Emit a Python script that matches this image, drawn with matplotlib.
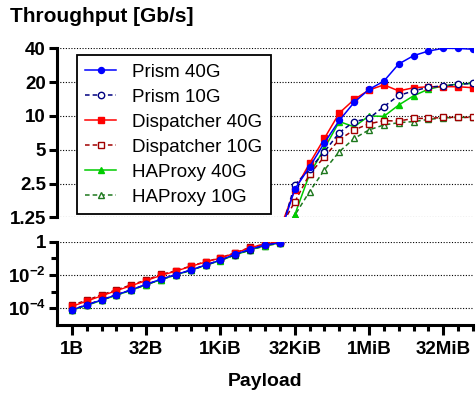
import matplotlib
matplotlib.use("Agg")
import matplotlib.pyplot as plt
from matplotlib.ticker import FixedLocator, NullLocator, NullFormatter

plt.rcParams['font.family'] = ['Liberation Sans', 'DejaVu Sans']
plt.rcParams['mathtext.fontset'] = 'custom'
plt.rcParams['mathtext.rm'] = 'Liberation Sans'
plt.rcParams['mathtext.bf'] = 'Liberation Sans:bold'

# payload exponents (2^k bytes)
low_k = list(range(0, 15))      # 1B .. 16KiB (lower panel)
high_k = list(range(14, 28))    # 16KiB .. 128MiB (upper panel, first point is clipped)

# lower panel throughput [Gb/s]
prism40_low = [8.1e-5, 1.6e-4, 3.2e-4, 6.5e-4, 1.3e-3, 2.8e-3, 5.6e-3, 1.07e-2,
               2.0e-2, 4.0e-2, 7.9e-2, 0.18, 0.35, 0.63, 0.87]
prism10_low = [8.3e-5, 1.65e-4, 3.3e-4, 6.6e-4, 1.3e-3, 2.7e-3, 5.5e-3, 1.05e-2,
               2.0e-2, 4.0e-2, 8.0e-2, 0.17, 0.34, 0.62, 0.85]
disp40_low = [1.3e-4, 2.7e-4, 5.6e-4, 1.15e-3, 2.3e-3, 4.6e-3, 9.5e-3, 1.7e-2,
              3.3e-2, 6.0e-2, 0.105, 0.21, 0.44, 0.72, 0.98]
disp10_low = [1.55e-4, 3.1e-4, 6.5e-4, 1.3e-3, 2.6e-3, 5.1e-3, 1.1e-2, 1.8e-2,
              3.5e-2, 6.3e-2, 0.11, 0.22, 0.46, 0.73, 1.0]
hap40_low = [7.6e-5, 1.5e-4, 3.0e-4, 6.1e-4, 1.2e-3, 2.6e-3, 5.2e-3, 1.0e-2,
             1.9e-2, 3.8e-2, 7.4e-2, 0.16, 0.32, 0.58, 0.83]
hap10_low = [7.8e-5, 1.55e-4, 3.1e-4, 6.2e-4, 1.25e-3, 2.6e-3, 5.3e-3, 1.0e-2,
             1.9e-2, 3.8e-2, 7.5e-2, 0.16, 0.31, 0.55, 0.80]

# upper panel throughput [Gb/s]
prism40_high = [0.87, 2.22, 3.51, 5.77, 9.1, 13.2, 17.2, 20.4, 29.0, 34.4, 37.8, 40.0, 39.9, 39.2]
prism10_high = [0.85, 2.43, 3.35, 4.8, 7.1, 8.9, 9.5, 12.1, 15.2, 16.7, 18.0, 18.5, 19.1, 19.5]
disp40_high = [0.98, 2.18, 3.78, 6.32, 10.6, 14.0, 17.0, 18.9, 16.7, 17.8, 18.2, 18.2, 18.2, 17.8]
disp10_high = [1.0, 1.71, 3.03, 4.32, 6.15, 7.5, 8.5, 9.07, 9.0, 9.5, 9.5, 9.7, 9.7, 9.7]
hap40_high = [0.83, 1.31, 3.03, 5.14, 8.9, 8.0, 10.0, 9.9, 12.5, 15.1, 17.3, 18.5, 19.2, 19.5]
hap10_high = [0.80, 1.30, 2.12, 3.3, 4.8, 6.3, 7.5, 8.3, 8.7, 8.9, 9.3, 9.6, 9.7, 9.7]

labels = ["Prism 40G", "Prism 10G", "Dispatcher 40G", "Dispatcher 10G", "HAProxy 40G", "HAProxy 10G"]
low_vals = [prism40_low, prism10_low, disp40_low, disp10_low, hap40_low, hap10_low]
high_vals = [prism40_high, prism10_high, disp40_high, disp10_high, hap40_high, hap10_high]

styles = [
    dict(color="#0000ff", ls="-", marker="o", ms=4.3, mfc="#0000ff", mec="#0000ff"),
    dict(color="#000080", ls=(0, (3, 2)), marker="o", ms=4.6, mfc="white", mec="#000080"),
    dict(color="#ff0000", ls="-", marker="s", ms=4.6, mfc="#ff0000", mec="#ff0000"),
    dict(color="#a00000", ls=(0, (3, 2)), marker="s", ms=4.6, mfc="white", mec="#a00000"),
    dict(color="#00cc00", ls="-", marker="^", ms=4, mfc="#00cc00", mec="#00cc00"),
    dict(color="#1e781e", ls=(0, (3, 2)), marker="^", ms=4.3, mfc="white", mec="#1e781e"),
]

fig = plt.figure(figsize=(4.77, 3.96), dpi=100)
left, right = 57 / 477, 473 / 477
ax_top = fig.add_axes([left, 1 - 217.3 / 396, right - left, (217.3 - 48.3) / 396])
ax_bot = fig.add_axes([left, 1 - 325 / 396, right - left, (325 - 241.7) / 396])

handles = [None] * 6
for i in reversed(range(6)):
    st = styles[i]
    xs_low = [2.0 ** k for k in low_k]
    xs_high = [2.0 ** k for k in high_k]
    ax_bot.plot(xs_low, low_vals[i], lw=1.0, mew=1.0, **st)
    h, = ax_top.plot(xs_high, high_vals[i], lw=1.1, mew=1.0, label=labels[i], **st)
    handles[i] = h

for ax in (ax_top, ax_bot):
    ax.set_xscale("log", base=2)
    ax.set_yscale("log")
    ax.set_xlim(0.5, 2.0 ** 27)
    ax.spines["right"].set_visible(False)
    ax.spines["top"].set_visible(False)
    ax.spines["left"].set_linewidth(2.2)
    ax.spines["bottom"].set_linewidth(2.2)
    ax.tick_params(axis="both", which="major", width=2.2, length=6, labelsize=13.5, pad=2)
    ax.tick_params(axis="both", which="minor", width=2.2, length=4)
    ax.grid(True, axis="y", which="major", ls=(0, (1, 1.5)), color="black", lw=0.8)
    ax.set_axisbelow(True)

# upper panel
ax_top.set_ylim(1.25, 40)
ax_top.spines["bottom"].set_visible(False)
top_ticks = [1.25, 2.5, 5, 10, 20, 40]
ax_top.yaxis.set_major_locator(FixedLocator(top_ticks))
ax_top.set_yticklabels(["1.25", "2.5", "5", "10", "20", "40"], fontweight="bold")
ax_top.yaxis.set_minor_locator(NullLocator())
ax_top.xaxis.set_major_locator(NullLocator())
ax_top.xaxis.set_minor_locator(NullLocator())

# lower panel
ax_bot.set_ylim(1e-5, 1)
ax_bot.yaxis.set_major_locator(FixedLocator([1e-4, 1e-2, 1]))
ax_bot.set_yticklabels([r"$\mathbf{10^{-4}}$", r"$\mathbf{10^{-2}}$", "1"], fontweight="bold")
ax_bot.yaxis.set_minor_locator(FixedLocator([1e-3, 1e-1]))
ax_bot.yaxis.set_minor_formatter(NullFormatter())
ax_bot.xaxis.set_major_locator(FixedLocator([2.0 ** k for k in range(0, 26, 5)]))
ax_bot.set_xticklabels(["1B", "32B", "1KiB", "32KiB", "1MiB", "32MiB"], fontweight="bold")
ax_bot.xaxis.set_minor_locator(FixedLocator([2.0 ** k for k in range(0, 28)]))
ax_bot.xaxis.set_minor_formatter(NullFormatter())
ax_bot.tick_params(axis="x", which="major", length=7.5, pad=4)

leg = ax_top.legend(handles=handles, loc="upper left", bbox_to_anchor=(0.048, 0.96),
                    borderaxespad=0, fontsize=13.5, handlelength=1.65, handletextpad=0.85,
                    borderpad=0.45, labelspacing=0.42, fancybox=False, framealpha=1)
leg.get_frame().set_edgecolor("black")
leg.get_frame().set_linewidth(1.3)

fig.text(10 / 477, 1 - 17 / 396, "Throughput [Gb/s]", fontsize=15, fontweight="bold",
         ha="left", va="center")
fig.text(265 / 477, 1 - 381 / 396, "Payload", fontsize=14, fontweight="bold",
         ha="center", va="center")

fig.savefig("out.png", dpi=100)
